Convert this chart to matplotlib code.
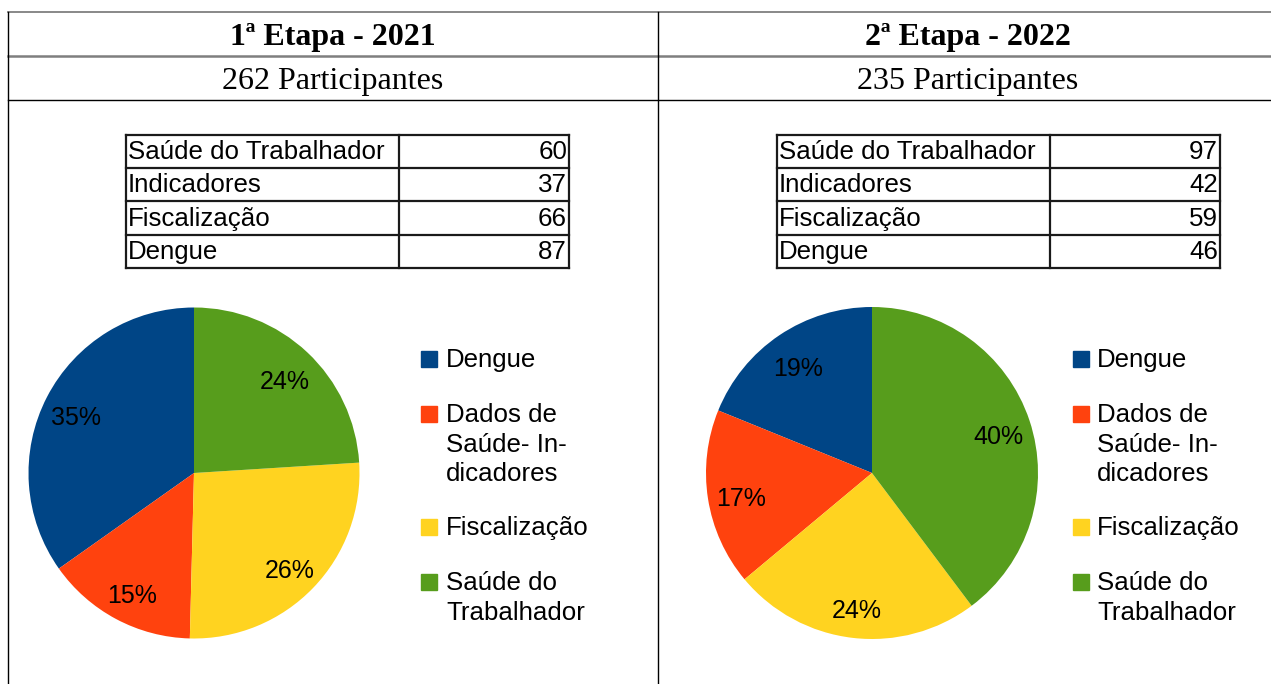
import matplotlib.pyplot as plt
from matplotlib.patches import Rectangle

# data
categories = ['Dengue', 'Dados de Saúde- Indicadores', 'Fiscalização', 'Saúde do Trabalhador']
legend_lines = [['Dengue'], ['Dados de', 'Saúde- In-', 'dicadores'], ['Fiscalização'],
                ['Saúde do', 'Trabalhador']]
colors = ['#004586', '#ff420e', '#ffd320', '#579d1c']

titles = ['1ª Etapa - 2021', '2ª Etapa - 2022']
participants = [262, 235]

table_labels = ['Saúde do Trabalhador', 'Indicadores', 'Fiscalização', 'Dengue']
table_2021 = [60, 37, 66, 87]
table_2022 = [97, 42, 59, 46]

# pie order: Dengue, Indicadores, Fiscalização, Saúde
pie_2021 = [87, 37, 66, 60]
pie_2022 = [46, 42, 59, 97]

W, H = 1271, 684
fig = plt.figure(figsize=(W / 100, H / 100), dpi=100)
sans = 'Liberation Sans'
serif = 'Liberation Serif'

# overlay in pixel coordinates for the frame, headers, tables, legends
ov = fig.add_axes([0, 0, 1, 1])
ov.set_xlim(0, W)
ov.set_ylim(H, 0)
ov.axis('off')

# outer frame
ov.plot([8, W], [12, 12], color='#7f7f7f', lw=1.3)
ov.plot([8, W], [56, 56], color='#7f7f7f', lw=1.8)
ov.plot([8, W], [100, 100], color='black', lw=1.0)
ov.plot([8, 8], [12, H], color='black', lw=1.0)
ov.plot([658, 658], [12, H], color='black', lw=1.0)

col_centers = [333, 968]
for cx, t, n in zip(col_centers, titles, participants):
    ov.text(cx, 38, t, ha='center', va='center', fontsize=23, fontweight='bold',
            family=serif)
    ov.text(cx, 82, f'{n} Participantes', ha='center', va='center', fontsize=23,
            family=serif)


def draw_table(x0, values):
    x1, xm = x0 + 443, x0 + 273
    y0, rh = 135, 33.2
    n = len(values)
    for i in range(n + 1):
        ov.plot([x0, x1], [y0 + i * rh] * 2, color='#1a1a1a', lw=1.6)
    for x in (x0, xm, x1):
        ov.plot([x, x], [y0, y0 + n * rh], color='#1a1a1a', lw=1.6)
    for i, (lab, v) in enumerate(zip(table_labels, values)):
        yb = y0 + (i + 1) * rh - 9
        ov.text(x0 + 2, yb, lab, ha='left', va='baseline', fontsize=18.6, family=sans)
        ov.text(x1 - 2, yb, str(v), ha='right', va='baseline', fontsize=18.6, family=sans)


draw_table(126, table_2021)
draw_table(777, table_2022)


def draw_pie(cx, cy, r, values):
    ax = fig.add_axes([(cx - r) / W, (H - cy - r) / H, 2 * r / W, 2 * r / H])
    _, _, pcts = ax.pie(values, colors=colors, startangle=90, counterclock=True, radius=1,
                        autopct=lambda p: f'{p:.0f}%', pctdistance=0.8,
                        wedgeprops=dict(linewidth=0),
                        textprops=dict(fontsize=18, family=sans, color='black'))
    # labels sit a little lower in the original
    for t in pcts:
        x, y = t.get_position()
        t.set_position((x, y - 0.035))
    ax.set_xlim(-1, 1)
    ax.set_ylim(-1, 1)
    ax.set_aspect('equal')
    ax.axis('off')


draw_pie(194, 473, 165.5, pie_2021)
draw_pie(872, 473, 166, pie_2022)


def draw_legend(mx, tx):
    baselines = [367, 422, 535, 590]
    for yb, lines, c in zip(baselines, legend_lines, colors):
        ov.add_patch(Rectangle((mx, yb - 16), 16, 16, color=c))
        for k, line in enumerate(lines):
            ov.text(tx, yb + k * 29.5, line, ha='left', va='baseline', fontsize=18.6,
                    family=sans)


draw_legend(421, 446)
draw_legend(1073, 1097)

fig.savefig('out.png', dpi=100)
